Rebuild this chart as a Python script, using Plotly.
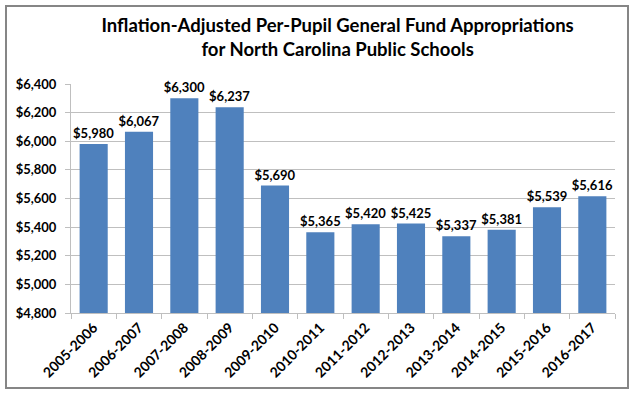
import plotly.graph_objects as go

years = ["2005-2006", "2006-2007", "2007-2008", "2008-2009", "2009-2010", "2010-2011",
         "2011-2012", "2012-2013", "2013-2014", "2014-2015", "2015-2016", "2016-2017"]
values = [5980, 6067, 6300, 6237, 5690, 5365, 5420, 5425, 5337, 5381, 5539, 5616]
y_ticks = [4800, 5000, 5200, 5400, 5600, 5800, 6000, 6200, 6400]

W, H = 637, 395
L, R, T, B = 71, 22, 84, 82
PW, PH = W - L - R, H - T - B

fig = go.Figure(go.Bar(
    x=years, y=values,
    marker=dict(color="#4F81BD", line=dict(width=0)),
    text=[f"${v:,}" for v in values],
    textposition="outside",
    constraintext="none",
    textfont=dict(family="Lato", size=13, color="#000000", weight="bold"),
    cliponaxis=False,
))

fig.update_layout(
    width=W, height=H,
    margin=dict(l=L, r=R, t=T, b=B),
    paper_bgcolor="white", plot_bgcolor="white",
    bargap=0.38,
    showlegend=False,
    font=dict(family="Lato", color="#000000"),
    title=dict(
        text="Inflation-Adjusted Per-Pupil General Fund Appropriations<br>for North Carolina Public Schools",
        x=0.53, xanchor="center", y=0.92, yanchor="top",
        font=dict(family="Lato", size=18.5, color="#000000", weight="bold"),
    ),
    shapes=[dict(type="rect", xref="paper", yref="paper",
                 x0=-(L - 6) / PW, x1=1 + (R - 9) / PW,
                 y0=-(B - 7) / PH, y1=1 + (T - 6) / PH,
                 line=dict(color="#868686", width=2), layer="above")],
)

fig.update_yaxes(
    range=[4800, 6400], tickvals=y_ticks,
    ticktext=[f"${v:,}" for v in y_ticks],
    tickfont=dict(family="Lato", size=13, color="#000000", weight="bold"),
    showgrid=True, gridcolor="#BFBFBF", gridwidth=1,
    showline=True, linecolor="#BFBFBF", linewidth=1,
    ticks="outside", ticklen=5, tickcolor="#BFBFBF",
    ticklabelstandoff=6,
    zeroline=False,
)
fig.update_xaxes(
    tickangle=-45,
    tickfont=dict(family="Lato", size=14, color="#000000", weight="bold"),
    showline=True, linecolor="#BFBFBF", linewidth=1,
    ticks="outside", ticklen=5, tickcolor="#BFBFBF", tickson="boundaries",
)

fig.write_html("out.html", config={"displayModeBar": False},
               post_script="document.body.style.margin='0';")
